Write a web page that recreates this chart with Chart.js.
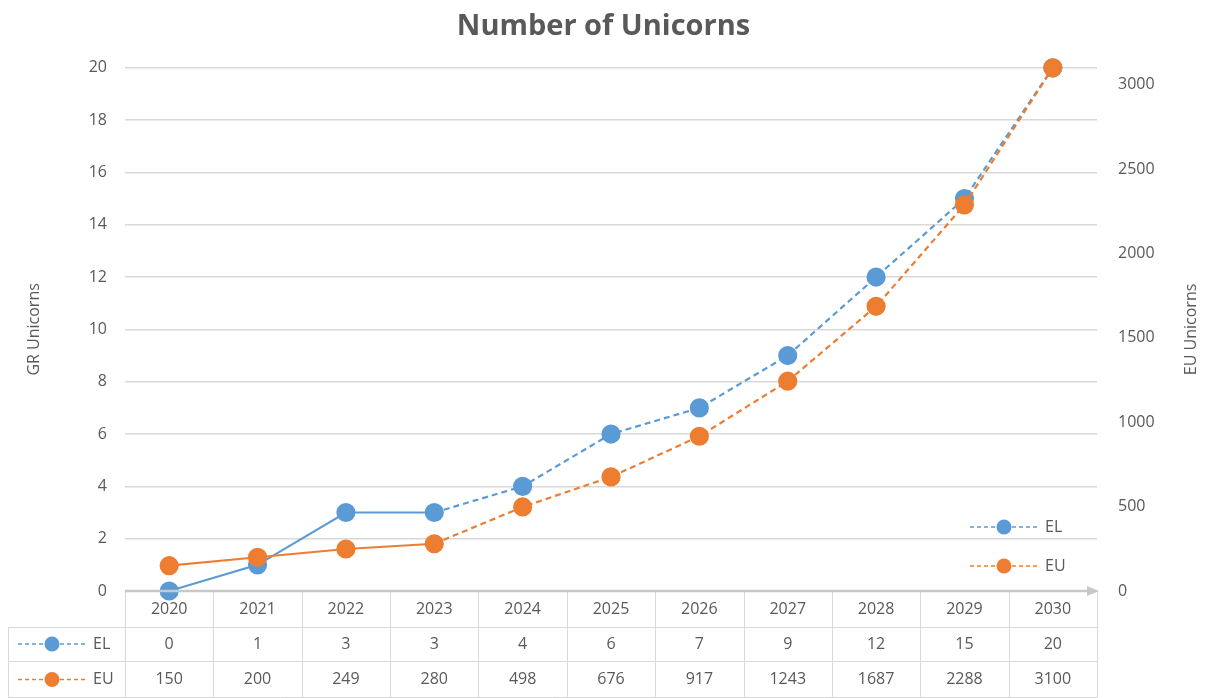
<!DOCTYPE html>
<html>
<head>
<meta charset="utf-8">
<script src="https://cdn.jsdelivr.net/npm/chart.js@4.4.1/dist/chart.umd.min.js"></script>
<style>
  html, body { margin: 0; padding: 0; background: #fff; }
  #wrap { width: 1207px; height: 698px; position: relative; }
</style>
</head>
<body>
<div id="wrap"><canvas id="unicornChart"></canvas></div>
<script>
// Data
const years = ["2020", "2021", "2022", "2023", "2024", "2025", "2026", "2027", "2028", "2029", "2030"];
const elValues = [0, 1, 3, 3, 4, 6, 7, 9, 12, 15, 20];
const euValues = [150, 200, 249, 280, 498, 676, 917, 1243, 1687, 2288, 3100];
const seriesNames = ["EL", "EU"];
const rightTicks = [0, 500, 1000, 1500, 2000, 2500, 3000];

const BLUE = "#5B9BD5";
const ORANGE = "#ED7D31";
const TEXT = "#595959";
const GRID = "#D9D9D9";
const FONT = "'Open Sans', 'Liberation Sans', sans-serif";

// solid up to 2023, dashed for the forecast years
const dashAfter = 3;
const segDash = ctx => ctx.p0DataIndex >= dashAfter ? [6, 4] : undefined;

function drawKey(ctx, x, y, color, label) {
    ctx.save();
    ctx.strokeStyle = color;
    ctx.lineWidth = 1.5;
    ctx.setLineDash([4, 3]);
    ctx.beginPath();
    ctx.moveTo(x, y);
    ctx.lineTo(x + 68, y);
    ctx.stroke();
    ctx.setLineDash([]);
    ctx.fillStyle = color;
    ctx.beginPath();
    ctx.arc(x + 34, y, 7.5, 0, Math.PI * 2);
    ctx.fill();
    ctx.fillStyle = TEXT;
    ctx.font = "16px " + FONT;
    ctx.textAlign = "left";
    ctx.textBaseline = "middle";
    ctx.fillText(label, x + 75, y);
    ctx.restore();
}

// data table, x axis line, legend and right title
const tablePlugin = {
    id: "tablePlugin",
    afterDraw(chart) {
        const ctx = chart.ctx;
        const area = chart.chartArea;
        const xs = chart.scales.x;
        const colW = (area.right - area.left) / years.length;
        const rowH = [36, 34, 37];
        const top = area.bottom;
        const y1 = top + rowH[0];
        const y2 = y1 + rowH[1];
        const y3 = y2 + rowH[2];
        const keyLeft = 8;

        ctx.save();
        ctx.strokeStyle = GRID;
        ctx.lineWidth = 1;
        // vertical lines
        for (let i = 0; i <= years.length; i++) {
            const x = Math.round(area.left + i * colW) + 0.5;
            ctx.beginPath();
            ctx.moveTo(x, top);
            ctx.lineTo(x, y3);
            ctx.stroke();
        }
        ctx.beginPath();
        ctx.moveTo(keyLeft + 0.5, y1);
        ctx.lineTo(keyLeft + 0.5, y3);
        ctx.stroke();
        // horizontal lines
        [y1, y2, y3 - 1].forEach(y => {
            ctx.beginPath();
            ctx.moveTo(keyLeft, Math.round(y) + 0.5);
            ctx.lineTo(area.right, Math.round(y) + 0.5);
            ctx.stroke();
        });

        // cell text
        ctx.fillStyle = TEXT;
        ctx.font = "16px " + FONT;
        ctx.textAlign = "center";
        ctx.textBaseline = "middle";
        years.forEach((yr, i) => {
            const cx = xs.getPixelForValue(i);
            ctx.fillText(yr, cx, top + rowH[0] / 2);
            ctx.fillText(String(elValues[i]), cx, y1 + rowH[1] / 2);
            ctx.fillText(String(euValues[i]), cx, y2 + rowH[2] / 2);
        });
        ctx.restore();

        // keys in table
        drawKey(ctx, 18, y1 + rowH[1] / 2, BLUE, seriesNames[0]);
        drawKey(ctx, 18, y2 + rowH[2] / 2, ORANGE, seriesNames[1]);

        // legend inside the plot
        drawKey(ctx, 970, 527, BLUE, seriesNames[0]);
        drawKey(ctx, 970, 566, ORANGE, seriesNames[1]);

        // x axis line with arrow
        ctx.save();
        ctx.strokeStyle = "#C8C8C8";
        ctx.fillStyle = "#C8C8C8";
        ctx.lineWidth = 2.5;
        ctx.beginPath();
        ctx.moveTo(area.left, area.bottom);
        ctx.lineTo(area.right - 4, area.bottom);
        ctx.stroke();
        ctx.beginPath();
        ctx.moveTo(area.right + 2, area.bottom);
        ctx.lineTo(area.right - 10, area.bottom - 5);
        ctx.lineTo(area.right - 10, area.bottom + 5);
        ctx.closePath();
        ctx.fill();
        ctx.restore();

        // right axis title, reading bottom to top
        ctx.save();
        ctx.translate(1191, (area.top + area.bottom) / 2);
        ctx.rotate(-Math.PI / 2);
        ctx.fillStyle = TEXT;
        ctx.font = "16px " + FONT;
        ctx.textAlign = "center";
        ctx.textBaseline = "middle";
        ctx.fillText("EU Unicorns", 0, 0);
        ctx.restore();
    }
};

const ctx = document.getElementById("unicornChart").getContext("2d");
new Chart(ctx, {
    type: "line",
    data: {
        labels: years,
        datasets: [
            {
                label: seriesNames[0],
                data: elValues,
                yAxisID: "y",
                borderColor: BLUE,
                backgroundColor: BLUE,
                pointBackgroundColor: BLUE,
                pointBorderColor: BLUE,
                borderWidth: 2.2,
                pointRadius: 8.5,
                pointHoverRadius: 8.5,
                tension: 0,
                clip: false,
                order: 1,
                segment: { borderDash: segDash }
            },
            {
                label: seriesNames[1],
                data: euValues,
                yAxisID: "y2",
                borderColor: ORANGE,
                backgroundColor: ORANGE,
                pointBackgroundColor: ORANGE,
                pointBorderColor: ORANGE,
                borderWidth: 2.2,
                pointRadius: 8.5,
                pointHoverRadius: 8.5,
                tension: 0,
                clip: false,
                order: 0,
                segment: { borderDash: segDash }
            }
        ]
    },
    options: {
        responsive: true,
        maintainAspectRatio: false,
        animation: false,
        layout: { padding: { left: 0, right: 0, top: 0, bottom: 107 } },
        plugins: {
            legend: { display: false },
            tooltip: { enabled: false },
            title: {
                display: true,
                text: "Number of Unicorns",
                color: TEXT,
                font: { family: FONT, size: 29, weight: "bold" },
                padding: { top: 9, bottom: 24 }
            }
        },
        scales: {
            x: {
                display: false,
                offset: true,
                grid: { display: false }
            },
            y: {
                position: "left",
                min: 0,
                max: 20,
                ticks: {
                    stepSize: 2,
                    color: TEXT,
                    padding: 18,
                    font: { family: FONT, size: 16 }
                },
                grid: { color: GRID, lineWidth: 1.5, drawTicks: false },
                border: { display: false },
                title: {
                    display: true,
                    text: "GR Unicorns",
                    color: TEXT,
                    font: { family: FONT, size: 16 },
                    padding: { top: 25, bottom: 0 }
                },
                afterFit(scale) { scale.width = 125; }
            },
            y2: {
                position: "right",
                min: 0,
                max: 3100,
                afterBuildTicks(scale) {
                    scale.ticks = rightTicks.map(v => ({ value: v }));
                },
                ticks: {
                    color: TEXT,
                    padding: 21,
                    font: { family: FONT, size: 16 },
                    callback: v => String(v)
                },
                grid: { display: false, drawTicks: false },
                border: { display: false },
                afterFit(scale) { scale.width = 110; }
            }
        }
    },
    plugins: [tablePlugin]
});
</script>
</body>
</html>
